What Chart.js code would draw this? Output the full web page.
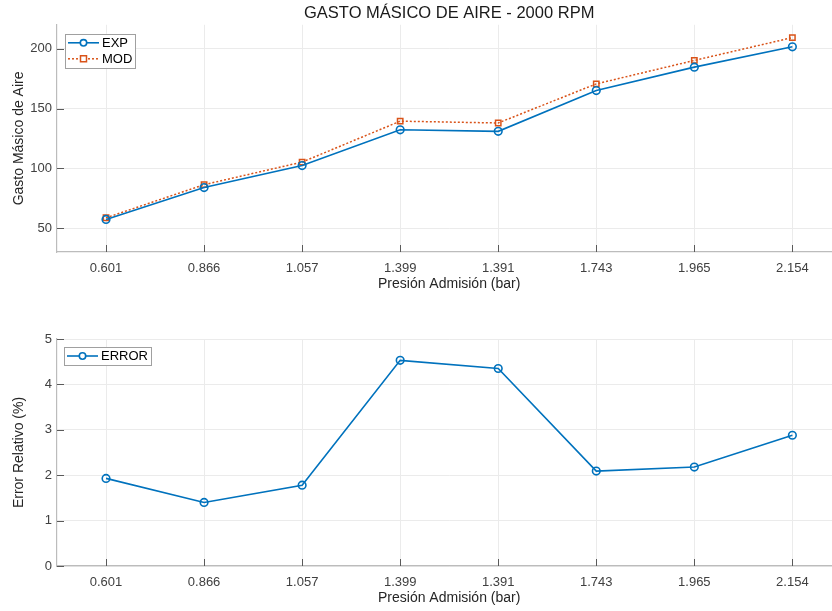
<!DOCTYPE html>
<html>
<head>
<meta charset="utf-8">
<script src="https://cdn.jsdelivr.net/npm/chart.js@4.4.1/dist/chart.umd.min.js"></script>
<style>
  html, body { margin: 0; padding: 0; background: #ffffff; overflow: hidden; width: 832px; height: 611px; }
  .box { position: absolute; left: 0; width: 847px; }
  #b1 { top: 0; height: 305px; }
  #b2 { top: 305px; height: 306px; }
  canvas { display: block; }
</style>
</head>
<body>
<div class="box" id="b1"><canvas id="c1" width="847" height="305"></canvas></div>
<div class="box" id="b2"><canvas id="c2" width="847" height="306"></canvas></div>
<script>
// ---- data ----
const categories = ['0.601', '0.866', '1.057', '1.399', '1.391', '1.743', '1.965', '2.154'];
const expValues  = [57.2, 83.9, 102.3, 132.2, 130.9, 165.0, 184.6, 201.6];
const modValues  = [58.6, 86.3, 105.2, 139.4, 137.9, 170.6, 190.2, 209.3];
const errorValues = [1.93, 1.40, 1.78, 4.53, 4.35, 2.09, 2.18, 2.88];
const topYTicks = [50, 100, 150, 200];
const bottomYTicks = [0, 1, 2, 3, 4, 5];

const FONT = "'Liberation Sans', Arial, sans-serif";
const BLUE = '#0072BD';
const ORANGE = '#D95319';
const GRID = '#ebebeb';
const AXIS = '#bcbcbc';
const TEXT = '#404040';

// inward tick marks (MATLAB style)
const innerTicks = {
  id: 'innerTicks',
  afterDatasetsDraw(chart) {
    const ctx = chart.ctx, a = chart.chartArea;
    ctx.save();
    ctx.strokeStyle = '#5a5a5a';
    ctx.lineWidth = 1;
    const xs = chart.scales.x, ys = chart.scales.y;
    xs.ticks.forEach((t, i) => {
      const px = Math.round(xs.getPixelForTick(i)) + 0.5;
      ctx.beginPath(); ctx.moveTo(px, a.bottom); ctx.lineTo(px, a.bottom - 7); ctx.stroke();
    });
    ys.ticks.forEach((t, i) => {
      const py = Math.round(ys.getPixelForTick(i)) + 0.5;
      ctx.beginPath(); ctx.moveTo(a.left, py); ctx.lineTo(a.left + 7, py); ctx.stroke();
    });
    ctx.restore();
  }
};

// boxed legend inside the plot area (upper left)
const boxLegend = {
  id: 'boxLegend',
  afterDraw(chart) {
    const ctx = chart.ctx, a = chart.chartArea;
    const o = chart.options.plugins.boxLegend;
    const ds = chart.data.datasets;
    ctx.save();
    ctx.font = '13px ' + FONT;
    let tw = 0;
    ds.forEach(d => { tw = Math.max(tw, ctx.measureText(d.label).width); });
    const x0 = a.left + o.dx, y0 = a.top + o.dy;
    const rowH = o.rowH;
    const w = 3 + 32 + 3 + tw + 2;
    const h = ds.length * rowH + 2;
    ctx.fillStyle = '#ffffff';
    ctx.fillRect(x0, y0, w, h);
    ctx.strokeStyle = '#a0a0a0';
    ctx.lineWidth = 1;
    ctx.strokeRect(Math.round(x0) + 0.5, Math.round(y0) + 0.5, Math.round(w), Math.round(h));
    ds.forEach((d, i) => {
      const cy = y0 + 1 + rowH * i + rowH / 2;
      const lx0 = x0 + 3, lx1 = x0 + 34, mx = (lx0 + lx1) / 2;
      ctx.strokeStyle = d.borderColor;
      ctx.lineWidth = d.borderWidth;
      ctx.setLineDash(d.borderDash || []);
      ctx.beginPath(); ctx.moveTo(lx0, cy); ctx.lineTo(lx1, cy); ctx.stroke();
      ctx.setLineDash([]);
      ctx.fillStyle = '#ffffff';
      ctx.beginPath();
      if (d.pointStyle === 'rect') {
        ctx.rect(mx - 3, cy - 3, 6, 6);
      } else {
        ctx.arc(mx, cy, 3.2, 0, Math.PI * 2);
      }
      ctx.fill(); ctx.stroke();
      ctx.fillStyle = '#000000';
      ctx.textBaseline = 'middle';
      ctx.textAlign = 'left';
      ctx.fillText(d.label, x0 + 37, cy + 0.5);
    });
    ctx.restore();
  }
};

function xScale(xHeight, titlePadBottom) {
  return {
    type: 'category',
    offset: true,
    grid: { color: GRID, lineWidth: 1, drawTicks: false, offset: false },
    border: { color: AXIS, width: 1.2 },
    ticks: { color: TEXT, font: { family: FONT, size: 13 }, padding: 9, maxRotation: 0, autoSkip: false },
    title: { display: true, text: 'Presión Admisión (bar)', color: '#262626',
             font: { family: FONT, size: 14 }, padding: { top: 0, bottom: titlePadBottom } },
    afterFit(s) { s.height = xHeight; }
  };
}
function yScale(min, max, tickVals, title) {
  return {
    type: 'linear',
    min: min, max: max,
    afterBuildTicks(s) { s.ticks = tickVals.map(v => ({ value: v })); },
    grid: { color: GRID, lineWidth: 1, drawTicks: false },
    border: { color: AXIS, width: 1.2 },
    ticks: { color: TEXT, font: { family: FONT, size: 13 }, padding: 5 },
    title: { display: true, text: title, color: '#262626',
             font: { family: FONT, size: 14 }, padding: { top: 11, bottom: 0 } },
    afterFit(s) { s.width = 57; }
  };
}

new Chart(document.getElementById('c1'), {
  type: 'line',
  data: {
    labels: categories,
    datasets: [
      { label: 'EXP', data: expValues, borderColor: BLUE, backgroundColor: '#ffffff',
        borderWidth: 1.6, pointStyle: 'circle', pointRadius: 3.8, pointBorderWidth: 1.6,
        pointBackgroundColor: 'rgba(255,255,255,0)', tension: 0 },
      { label: 'MOD', data: modValues, borderColor: ORANGE, backgroundColor: '#ffffff',
        borderWidth: 1.5, borderDash: [2, 2], pointStyle: 'rect', pointRadius: 3.8, pointBorderWidth: 1.5,
        pointBackgroundColor: 'rgba(255,255,255,0)', tension: 0 }
    ]
  },
  options: {
    responsive: false, animation: false, devicePixelRatio: 1,
    layout: { padding: { left: 0, right: 0, top: 0, bottom: 0 } },
    plugins: {
      legend: { display: false },
      tooltip: { enabled: false },
      title: { display: true, text: 'GASTO MÁSICO DE AIRE - 2000 RPM', color: '#1a1a1a', fullSize: false,
               font: { family: FONT, size: 16.5, weight: 'normal' }, padding: { top: 4, bottom: 1 } },
      boxLegend: { dx: 8, dy: 9, rowH: 16 }
    },
    scales: {
      x: xScale(53, 12),
      y: yScale(30, 220, topYTicks, 'Gasto Másico de Aire')
    }
  },
  plugins: [innerTicks, boxLegend]
});

new Chart(document.getElementById('c2'), {
  type: 'line',
  data: {
    labels: categories,
    datasets: [
      { label: 'ERROR', data: errorValues, borderColor: BLUE, backgroundColor: '#ffffff',
        borderWidth: 1.6, pointStyle: 'circle', pointRadius: 3.8, pointBorderWidth: 1.6,
        pointBackgroundColor: 'rgba(255,255,255,0)', tension: 0 }
    ]
  },
  options: {
    responsive: false, animation: false, devicePixelRatio: 1,
    layout: { padding: { left: 0, right: 0, top: 34, bottom: 0 } },
    plugins: {
      legend: { display: false },
      tooltip: { enabled: false },
      boxLegend: { dx: 7, dy: 8, rowH: 16 }
    },
    scales: {
      x: xScale(45, 4),
      y: yScale(0, 5, bottomYTicks, 'Error Relativo (%)')
    }
  },
  plugins: [innerTicks, boxLegend]
});
</script>
</body>
</html>
